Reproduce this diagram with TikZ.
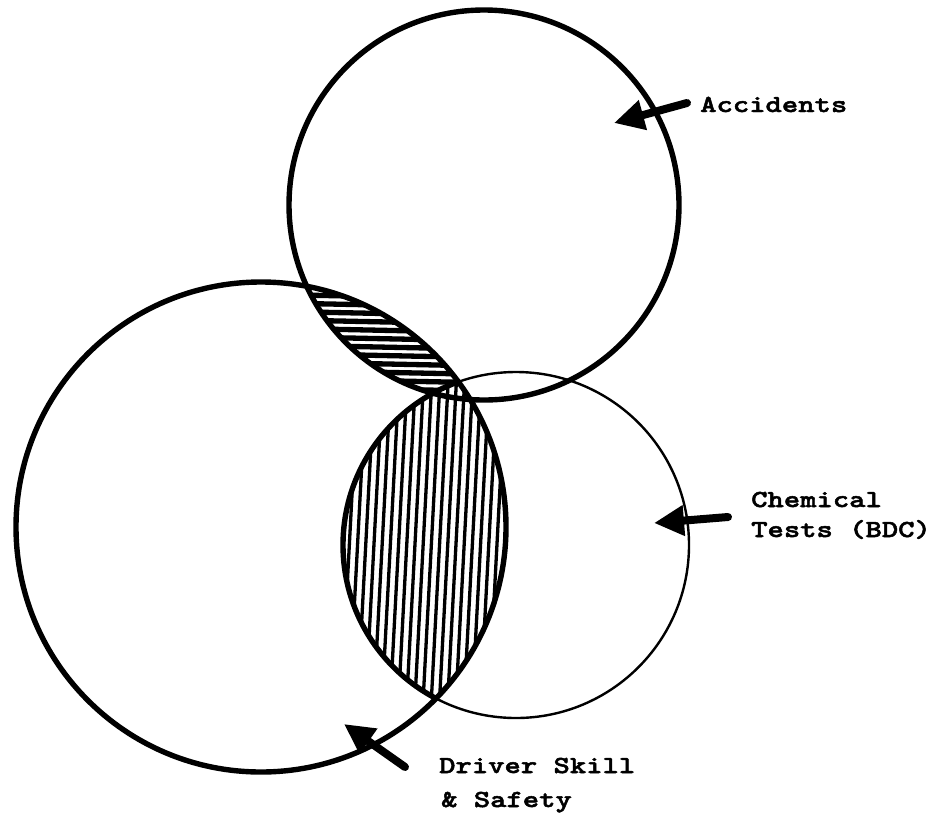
\documentclass[tikz,border=0pt]{standalone}
\usepackage{fontspec}
\newfontfamily\typew{lmmonolt10-bold}[Extension=.otf, FakeStretch=1.27, FakeBold=2]
\usetikzlibrary{arrows.meta}
\begin{document}
\begin{tikzpicture}[x=1pt,y=-1pt,
  thickc/.style={line width=5.4pt},
  thinc/.style={line width=2.4pt},
  hatchH/.style={line width=5.3pt},
  hatchV/.style={line width=3.3pt},
  arr/.style={line width=8pt, line cap=round, -{Triangle[length=30pt,width=29pt]}},
  lbl/.style={font=\fontsize{24.5}{30}\typew, inner sep=0pt, anchor=base west}]
\useasboundingbox (0,0) rectangle (939,817);
\fill[white] (0,0) rectangle (939,817);
\coordinate (A) at (484,205);
\coordinate (D) at (261,527);
\coordinate (C) at (516,545);
% horizontal hatching: Accidents and Driver overlap
\begin{scope}
  \clip (A) circle[radius=195pt];
  \clip (D) circle[radius=245pt];
  \foreach \y in {278,286.4,...,406} \draw[hatchH] (290,\y) -- (485,\y+4);
\end{scope}
% vertical hatching: Driver and Chemical overlap
\begin{scope}
  \clip (C) circle[radius=173pt];
  \clip (D) circle[radius=245pt];
  \fill[white] (300,360) rectangle (530,720);
  \foreach \x in {334,342.2,...,545} \draw[hatchV] (\x,370) -- (\x-18,710);
\end{scope}
% circles
\draw[thickc] (A) circle[radius=195pt];
\draw[thickc] (D) circle[radius=245pt];
\draw[thinc] (C) circle[radius=173pt];
\begin{scope}
  \clip (D) circle[radius=245pt];
  \draw[thickc] (C) circle[radius=173pt];
\end{scope}
% labels
\node[lbl] (acc) at (700,112) {Accidents};
\node[lbl] (chem1) at (751,507) {Chemical};
\node[lbl] (chem2) at (751,537) {Tests (BDC)};
\node[lbl] (drv1) at (439,773) {Driver Skill};
\node[lbl] (drv2) at (441,807) {\& Safety};
% arrows
\coordinate (accTail) at (687,103);
\coordinate (accTip) at (614,123);
\coordinate (chemTail) at (728,517);
\coordinate (chemTip) at (654,523);
\coordinate (drvTail) at (405,767);
\coordinate (drvTip) at (344,724);
\draw[arr] (accTail) -- (accTip);
\draw[arr] (chemTail) -- (chemTip);
\draw[arr] (drvTail) -- (drvTip);
\end{tikzpicture}
\end{document}
